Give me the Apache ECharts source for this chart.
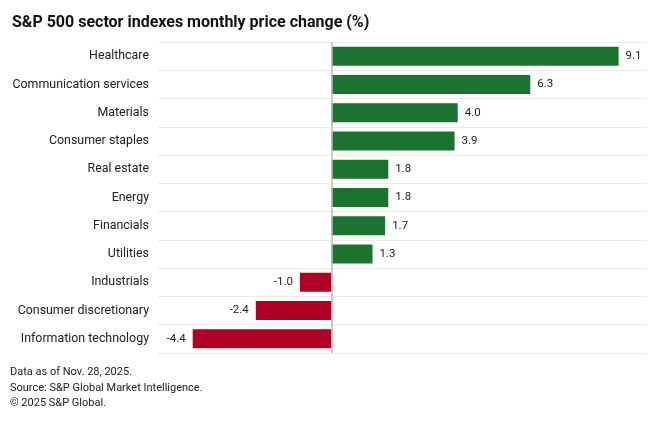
<!DOCTYPE html>
<html><head><meta charset="utf-8">
<script src="https://cdn.jsdelivr.net/npm/echarts@6/dist/echarts.min.js"></script>
<style>html,body{margin:0;padding:0;background:#fff}#c{width:660px;height:422px}</style>
</head><body><div id="c"></div>
<script>
const categories = ["Healthcare","Communication services","Materials","Consumer staples","Real estate","Energy","Financials","Utilities","Industrials","Consumer discretionary","Information technology"];
const values = [9.1,6.3,4.0,3.9,1.8,1.8,1.7,1.3,-1.0,-2.4,-4.4];
const titleText = "S&P 500 sector indexes monthly price change (%)";
const footerLines = ["Data as of Nov. 28, 2025.","Source: S&P Global Market Intelligence.","\u00a9 2025 S&P Global."];
const FONT = "Roboto, 'Noto Sans', sans-serif";
const chart = echarts.init(document.getElementById('c'));
chart.setOption({
  animation:false,
  title:{text:titleText,left:7,top:10,textStyle:{fontFamily:FONT,fontSize:16,fontWeight:'bold',color:'#111'}},
  graphic: footerLines.map((t,i)=>({type:'text',left:10,top:367+i*15.5,style:{text:t,fontFamily:FONT,fontSize:11,fill:'#222'}})),
  grid:{left:158,right:13,top:42,bottom:69},
  xAxis:{type:'value',min:-5.5,max:10,show:false,splitLine:{show:false}},
  yAxis:{type:'category',data:categories,inverse:true,
    axisLine:{show:false},axisTick:{show:false},
    axisLabel:{margin:9,fontFamily:FONT,fontSize:12.4,color:'#222'},
    splitLine:{show:true,lineStyle:{color:'#ebebeb',width:1}}},
  series:[{type:'bar',barWidth:19,
    data:values.map(v=>({value:v,itemStyle:{color:v>=0?'#1b742e':'#b10026'},
      label:{show:true,position:v>=0?'right':'left',distance:7}})),
    label:{show:true,fontFamily:FONT,fontSize:11.5,color:'#222',formatter:p=>p.value.toFixed(1)},
    markLine:{silent:true,symbol:'none',label:{show:false},lineStyle:{color:'#bbb',type:'solid',width:1.5},data:[{xAxis:0}]}
  }]
});
</script></body></html>
